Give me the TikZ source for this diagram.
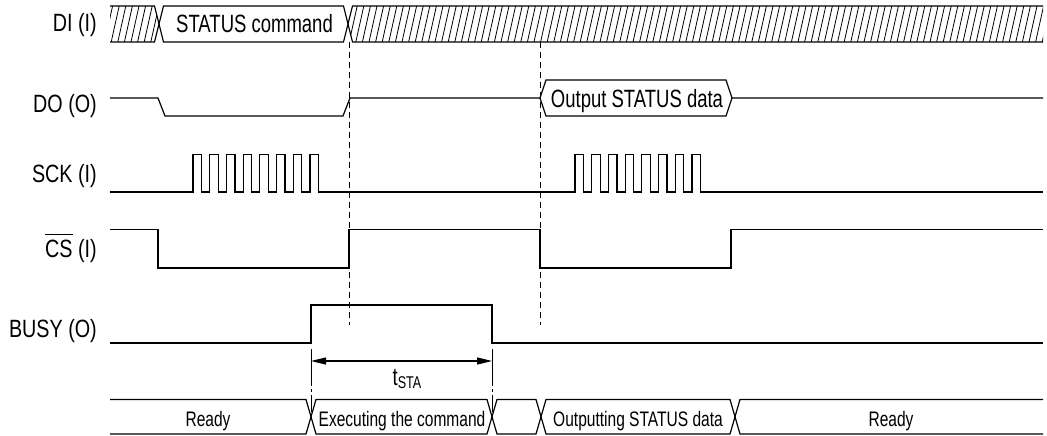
\documentclass[tikz,border=0pt]{standalone}
\usepackage{fontspec}
\setmainfont{Liberation Sans}[FakeStretch=0.76]
\newfontfamily\labelfont{Liberation Sans}[FakeStretch=0.79]
\newfontfamily\busfont{Liberation Sans}[FakeStretch=0.74]
\usetikzlibrary{arrows.meta}
% signal name with a bar over it (active-low)
\newcommand\activelow[1]{\vbox{\hrule height 1pt\kern 5.5pt\hbox{#1}}}
\tikzset{
  sig/.style={line width=1.2pt, line join=miter},
  hatch/.style={line width=0.8pt},
  guide/.style={line width=1pt, dash pattern=on 6pt off 4pt},
  dimguide/.style={line width=1pt, dash pattern=on 37pt off 3pt on 3pt off 3pt},
  dimarrow/.style={line width=1.2pt, {Triangle[length=15pt,width=7pt]}-{Triangle[length=15pt,width=7pt]}},
  siglabel/.style={anchor=base east, inner sep=0pt, font=\labelfont\fontsize{25}{30}\selectfont},
  bustext/.style={anchor=base, inner sep=0pt, font=\busfont\fontsize{25}{30}\selectfont},
  statetext/.style={anchor=base, inner sep=0pt, font=\busfont\fontsize{21}{25}\selectfont},
}
\begin{document}
\begin{tikzpicture}[x=1pt, y=-1pt]
\useasboundingbox (0,0) rectangle (1047,436);

% ---- signal names ----
\node[siglabel] (lDI)   at (97,32)    {DI (I)};
\node[siglabel] (lDO)   at (97,113)   {DO (O)};
\node[siglabel] (lSCK)  at (97,182.7) {SCK (I)};
\node[siglabel] (lCS)   at (97,257.5) {\activelow{CS} (I)};
\node[siglabel] (lBUSY) at (97,337.7) {BUSY (O)};

% ---- DI: don't-care, command, don't-care ----
\begin{scope}
  \clip (110,6) -- (154.5,6) -- (159,24) -- (154.5,42) -- (110,42) -- cycle;
  \foreach \x in {98,104.6,...,170} \draw[hatch] (\x,42) -- ({\x+8},6);
\end{scope}
\begin{scope}
  \clip (1043,6) -- (352.5,6) -- (348,24) -- (352.5,42) -- (1043,42) -- cycle;
  \foreach \x in {336,342.6,...,1050} \draw[hatch] (\x,42) -- ({\x+8},6);
\end{scope}
\draw[sig] (110,6) -- (154.5,6) -- (163.5,42) -- (343.5,42) -- (352.5,6) -- (1043,6);
\draw[sig] (110,42) -- (154.5,42) -- (163.5,6) -- (343.5,6) -- (352.5,42) -- (1043,42);
\node[bustext] (cmd) at (254.5,33) {STATUS command};

% ---- DO ----
\draw[sig] (110,98) -- (158,98) -- (165,116) -- (343,116) -- (350,98) -- (540,98)
  -- (546,80) -- (726,80) -- (732,98) -- (1043,98);
\draw[sig] (540,98) -- (546,116) -- (726,116) -- (732,98);
\node[bustext] (outdata) at (637,107) {Output STATUS data};

% ---- SCK: two bursts of eight clocks ----
\draw[sig] (110,192)
  foreach \k in {0,...,7} { -- ({193+16.7*\k},192) -- ({193+16.7*\k},154.5)
                            -- ({201.5+16.7*\k},154.5) -- ({201.5+16.7*\k},192) }
  foreach \k in {0,...,7} { -- ({575+16.7*\k},192) -- ({575+16.7*\k},154.5)
                            -- ({583.5+16.7*\k},154.5) -- ({583.5+16.7*\k},192) }
  -- (1043,192);

% ---- /CS ----
\draw[sig] (110,229.5) -- (158,229.5) -- (158,268) -- (349,268) -- (349,229.5)
  -- (540,229.5) -- (540,268) -- (731,268) -- (731,229.5) -- (1043,229.5);

% ---- BUSY ----
\draw[sig] (110,343) -- (311,343) -- (311,305) -- (492,305) -- (492,343) -- (1043,343);

% ---- reference lines ----
\draw[guide] (349,42) -- (349,325);
\draw[guide] (540,42) -- (540,325);
\coordinate (busyup)   at (311,361);
\coordinate (busydown) at (492,361);
\draw[dimguide] (311,349) -- (311,412);
\draw[dimguide] (492,349) -- (492,412);
\draw[dimarrow] (busyup) -- (busydown);
\node[anchor=base, inner sep=0pt, font=\busfont\fontsize{25}{30}\selectfont] (tsta) at (407,385)
  {t\raisebox{-3pt}{\fontsize{17}{20}\selectfont STA}};

% ---- device state ----
\draw[sig] (110,399.5) -- (306,399.5) -- (316,434) -- (487,434) -- (497,399.5) -- (536,399.5)
  -- (546,434) -- (730,434) -- (740,399.5) -- (1043,399.5);
\draw[sig] (110,434) -- (306,434) -- (316,399.5) -- (487,399.5) -- (497,434) -- (536,434)
  -- (546,399.5) -- (730,399.5) -- (740,434) -- (1043,434);
\node[statetext] (ready1) at (208,426.5) {Ready};
\node[statetext] (exec)   at (402,426.5) {Executing the command};
\node[statetext] (outst)  at (638,426.5) {Outputting STATUS data};
\node[statetext] (ready2) at (891,426.5) {Ready};
\end{tikzpicture}
\end{document}
